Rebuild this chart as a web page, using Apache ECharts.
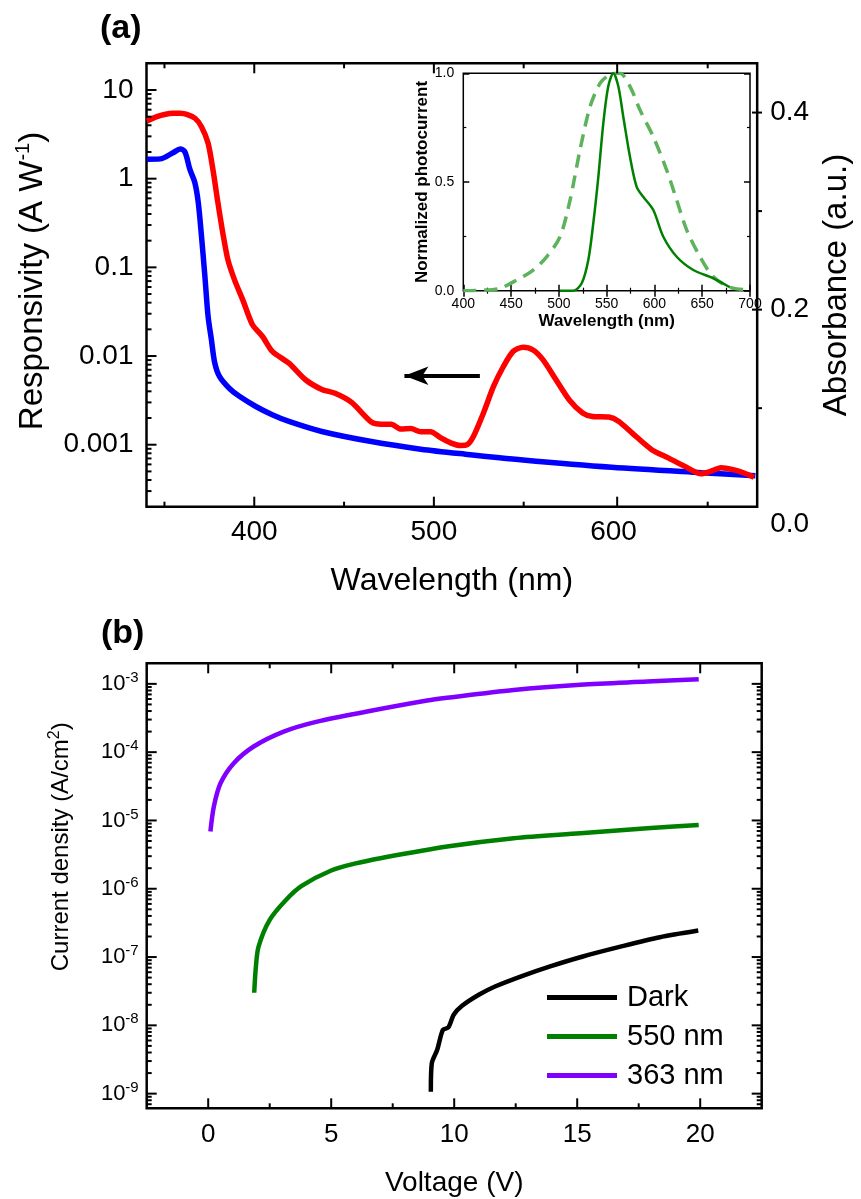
<!DOCTYPE html>
<html>
<head>
<meta charset="utf-8">
<script src="https://cdn.jsdelivr.net/npm/echarts@6/dist/echarts.min.js"></script>
<style>html,body{margin:0;padding:0;background:#fff}#c{width:861px;height:1199px}</style>
</head>
<body>
<div id="c"></div>
<script>
const FONT = "'Liberation Sans', Arial, Helvetica, sans-serif";

// ---------- Panel (a): responsivity (left, log) ----------
const respWl = [340.3,345.8,350,355,358.5,362.4,367,370.6,374.3,377,379.8,382.5,385.3,389,393.6,399,404.6,410,419.3,428.5,437.6,445,454.2,465.2,470.7,476.2,481.7,487.2,492.7,498.2,503.7,509.3,514.8,518.5,522,527.6,533.2,538.7,544.2,549.7,555.2,560.7,568,575.4,582.8,588.3,597.4,603,610.3,621.3,630.5,639.7,648.9,654,659.8,667.2,672.7,678.2];
const respVal = [4.48,5.0,5.3,5.46,5.45,5.32,4.8,3.86,2.51,1.26,0.53,0.243,0.122,0.0723,0.043,0.0225,0.0166,0.0113,0.0083,0.0054,0.0042,0.0038,0.0030,0.0018,0.0017,0.0017,0.0015,0.00152,0.0014,0.0014,0.0012,0.00105,0.00098,0.001,0.00124,0.00228,0.00454,0.00762,0.0113,0.0126,0.0117,0.0091,0.0054,0.0032,0.00228,0.00208,0.00205,0.00183,0.00136,0.00088,0.00071,0.00057,0.00047,0.0005,0.00055,0.00052,0.00048,0.00043];

// ---------- Panel (a): absorbance (right, linear) ----------
const absWl = [340.3,347.6,355,358.7,361.4,364.2,366.9,368.8,370.6,372.5,374.3,376.1,378,380.7,386.2,391.7,400.9,410,419.3,437.6,465.2,492.7,517.5,549.6,599,649,679];
const absVal = [0.3527,0.353,0.3595,0.363,0.360,0.342,0.329,0.309,0.275,0.234,0.193,0.170,0.146,0.132,0.120,0.112,0.1017,0.0933,0.0865,0.0763,0.0661,0.0584,0.0533,0.0474,0.040,0.0345,0.0315];

// ---------- Inset: normalized photocurrent ----------
const insetPcWl = [501,515,523.9,530.8,536,541.3,546.5,551.7,557,562.2,567.4,574.4,581.4,588.3,598.8,609.3,623.3,640.7,661.6,679];
const insetPcVal = [0,0,0.034,0.141,0.31,0.524,0.77,0.94,1.0,0.94,0.80,0.616,0.478,0.432,0.371,0.248,0.156,0.095,0.057,0.016];
const insetDashWl = [400,420,438.4,455.9,473.2,487.2,501.2,511.7,522.1,532.6,543,550,557,564,574.4,584.9,598.8,612.8,623.3,633.8,647.7,661.6,679,696.5];
const insetDashVal = [0,0.002,0.011,0.049,0.095,0.156,0.248,0.417,0.647,0.846,0.954,0.985,1.0,1.0,0.94,0.831,0.708,0.555,0.417,0.279,0.156,0.064,0.016,0.004];

// ---------- Panel (b): current density vs voltage ----------
const darkV = [9.05,9.09,9.31,9.54,9.76,9.98,10.32,11.0,11.66,12.78,13.9,15.23,16.8,18.36,19.92];
const darkJ = [1.07e-9,2.8e-9,4.4e-9,8.6e-9,9.3e-9,1.43e-8,1.93e-8,2.8e-8,3.7e-8,5.3e-8,7.3e-8,1.02e-7,1.43e-7,1.95e-7,2.44e-7];
const g550V = [1.87,1.94,2.05,2.5,3.17,3.8,5.0,6.0,7.0,9.71,12.42,15.13,17.85,19.94];
const g550J = [3.0e-8,7.3e-8,1.43e-7,3.5e-7,6.9e-7,1.1e-6,1.85e-6,2.35e-6,2.8e-6,4.15e-6,5.5e-6,6.5e-6,7.7e-6,8.6e-6];
const u363V = [0.09,0.23,0.5,1.04,1.85,3.07,4.43,6.46,8.9,9.71,12.42,15.13,17.85,19.94];
const u363J = [6.9e-6,1.6e-5,3.5e-5,6.9e-5,1.21e-4,2.0e-4,2.8e-4,3.93e-4,5.69e-4,6.24e-4,8.13e-4,9.7e-4,1.08e-3,1.17e-3];

// arrow annotation (wavelength, responsivity)
const arrowFrom = [525.6, 0.006];
const arrowTo = [483.6, 0.006];

// axis ranges
const aXRange = [340, 680], aYRange = [2e-4, 20], absRange = [0, 0.45];
const bXRange = [-2.5, 22.5], bYRange = [6.1e-10, 2e-3];

// tick positions
const aXMajor = [400,500,600], aXMinor = [350,450,550,650];
const aYMajor = [0.001,0.01,0.1,1,10];
const absMajor = [0.2,0.4], absMinor = [0.1,0.3];
const bXMajor = [0,5,10,15,20], bXMinor = [2.5,7.5,12.5,17.5];
const bYMajor = [1e-9,1e-8,1e-7,1e-6,1e-5,1e-4,1e-3];

// layout rectangles of the plot frames
const RA = {left:146.5, top:63.3, width:615.5, height:443.4};
const RI = {left:463.3, top:73.3, width:286.7, height:217.4};
const RB = {left:146.7, top:663.3, width:615, height:445};

function zip(a,b){ return a.map((v,i)=>[v,b[i]]); }
function logMinors(lo, hi){
  const out=[];
  for(let e=-12;e<=2;e++){ for(let k=2;k<=9;k++){ const v=k*Math.pow(10,e); if(v>lo*1.0001 && v<hi*0.9999) out.push(v);} }
  return out;
}
const aYMinor = logMinors(aYRange[0], aYRange[1]);
const bYMinor = logMinors(bYRange[0], bYRange[1]);

const near = (v,step)=>Math.abs(v/step-Math.round(v/step))<1e-6;
const txt = (size,extra)=>Object.assign({fontSize:size,fontFamily:FONT,color:'#000'},extra||{});

const chart = echarts.init(document.getElementById('c'), null, {renderer:'canvas'});
try {
chart.setOption({
  animation:false,
  backgroundColor:'#fff',
  title:[
    {text:'(a)', left:95, top:7, textStyle:txt(34,{fontWeight:'bold'})},
    {text:'(b)', left:96, top:612, textStyle:txt(34,{fontWeight:'bold'})}
  ],
  legend:{
    data:['Dark','550 nm','363 nm'], orient:'vertical', left:542, top:978,
    itemWidth:70, itemHeight:5, itemGap:10, icon:'rect', selectedMode:false,
    textStyle:txt(29,{padding:[0,0,0,5]})
  },
  grid:[
    Object.assign({show:true, borderColor:'#000', borderWidth:2.5, backgroundColor:'rgba(0,0,0,0)'}, RA),
    Object.assign({show:true, borderColor:'#000', borderWidth:1.5, backgroundColor:'#fff', z:10}, RI),
    Object.assign({show:true, borderColor:'#000', borderWidth:2.5, backgroundColor:'rgba(0,0,0,0)'}, RB)
  ],
  xAxis:[
    {gridIndex:0, type:'value', min:aXRange[0], max:aXRange[1], interval:10,
     axisLine:{show:false}, axisTick:{show:false}, splitLine:{show:false},
     axisLabel:txt(28,{margin:12, formatter:v=>near(v,100)?String(v):''}),
     name:'Wavelength (nm)', nameLocation:'middle', nameGap:58, nameTextStyle:txt(32)},
    {gridIndex:1, type:'value', min:400, max:700, interval:50, position:'bottom', z:11,
     axisLine:{show:false}, splitLine:{show:false},
     axisTick:{inside:true, length:6, lineStyle:{color:'#000', width:1.5}},
     minorTick:{show:true, splitNumber:2, length:3, lineStyle:{color:'#000', width:1.2}},
     axisLabel:txt(14,{margin:6}),
     name:'Wavelength (nm)', nameLocation:'middle', nameGap:22, nameTextStyle:txt(17,{fontWeight:'bold'})},
    {gridIndex:1, type:'value', min:400, max:700, interval:50, position:'top', z:11,
     axisLine:{show:false}, splitLine:{show:false}, axisLabel:{show:false},
     axisTick:{inside:true, length:6, lineStyle:{color:'#000', width:1.5}},
     minorTick:{show:true, splitNumber:2, length:3, lineStyle:{color:'#000', width:1.2}}},
    {gridIndex:2, type:'value', min:bXRange[0], max:bXRange[1], interval:2.5,
     axisLine:{show:false}, axisTick:{show:false}, splitLine:{show:false},
     axisLabel:txt(26,{margin:14, formatter:v=>near(v,5)?String(Math.round(v)):''}),
     name:'Voltage (V)', nameLocation:'middle', nameGap:61, nameTextStyle:txt(28)}
  ],
  yAxis:[
    {gridIndex:0, type:'log', min:aYRange[0], max:aYRange[1],
     axisLine:{show:false}, axisTick:{show:false}, splitLine:{show:false}, minorTick:{show:false},
     axisLabel:txt(28,{margin:13, formatter:v=>{const e=Math.log10(v), r=Math.round(e); if(Math.abs(e-r)>1e-6) return ''; return r>=0?String(Math.pow(10,r)):Math.pow(10,r).toFixed(-r);}}),
     name:'{t|Responsivity (A W}{s|-1}{t|)}', nameLocation:'middle', nameGap:95,
     nameTextStyle:{padding:[0,0,0,8], rich:{t:txt(33), s:txt(20,{padding:[0,0,18,0]})}}},
    {gridIndex:0, type:'value', min:absRange[0], max:absRange[1], interval:0.05, position:'right',
     axisLine:{show:false}, axisTick:{show:false}, splitLine:{show:false},
     axisLabel:txt(28,{margin:13, formatter:v=>{ if(!near(v,0.2)) return ''; if(v<1e-9) return '{low|0.0}'; return v.toFixed(1);},
       rich:{low:txt(28,{padding:[36,0,0,0]})}}),
     name:'Absorbance (a.u.)', nameLocation:'middle', nameRotate:90, nameGap:62, nameTextStyle:txt(33)},
    {gridIndex:1, type:'value', min:0, max:1, interval:0.5, position:'left', z:11,
     axisLine:{show:false}, splitLine:{show:false},
     axisTick:{inside:true, length:6, lineStyle:{color:'#000', width:1.5}},
     minorTick:{show:true, splitNumber:2, length:3, lineStyle:{color:'#000', width:1.2}},
     axisLabel:txt(14,{margin:9, formatter:v=>v.toFixed(1)}),
     name:'Normalized photocurrent', nameLocation:'middle', nameGap:30, nameTextStyle:txt(17,{fontWeight:'bold'})},
    {gridIndex:1, type:'value', min:0, max:1, interval:0.5, position:'right', z:11,
     axisLine:{show:false}, splitLine:{show:false}, axisLabel:{show:false},
     axisTick:{inside:true, length:6, lineStyle:{color:'#000', width:1.5}},
     minorTick:{show:true, splitNumber:2, length:3, lineStyle:{color:'#000', width:1.2}}},
    {gridIndex:2, type:'log', min:bYRange[0], max:bYRange[1],
     axisLine:{show:false}, axisTick:{show:false}, splitLine:{show:false}, minorTick:{show:false},
     axisLabel:{margin:8, formatter:v=>{const e=Math.log10(v), r=Math.round(e); if(Math.abs(e-r)>1e-6) return ''; return '{b|10}{s|'+r+'}';},
       rich:{b:txt(22), s:txt(15,{padding:[0,0,12,0]})}},
     name:'{t|Current density (A/cm}{s|2}{t|)}', nameLocation:'middle', nameGap:70,
     nameTextStyle:{padding:[0,0,0,78], rich:{t:txt(24), s:txt(16,{padding:[0,0,14,0]})}}}
  ],
  series:[
    {name:'Responsivity', type:'line', xAxisIndex:0, yAxisIndex:0, data:zip(respWl,respVal),
     showSymbol:false, smooth:0.25, lineStyle:{color:'#ff0000', width:5.5}, itemStyle:{color:'#ff0000'}, z:3,
     markLine:{silent:true, animation:false, label:{show:false}, lineStyle:{color:'#000', width:4, type:'solid'},
       data:[[{coord:arrowFrom, symbol:'none'},{coord:arrowTo, symbol:'arrow', symbolSize:[14,24]}]]}},
    {name:'Absorbance', type:'line', xAxisIndex:0, yAxisIndex:1, data:zip(absWl,absVal),
     showSymbol:false, smooth:0.3, lineStyle:{color:'#0000ff', width:5.5}, itemStyle:{color:'#0000ff'}, z:2},
    {name:'inset dashed', type:'line', xAxisIndex:1, yAxisIndex:2, data:zip(insetDashWl,insetDashVal),
     showSymbol:false, smooth:0.3, lineStyle:{color:'#5cb35c', width:3.5, type:[13,8]}, itemStyle:{color:'#5cb35c'}, z:12},
    {name:'inset solid', type:'line', xAxisIndex:1, yAxisIndex:2, data:zip(insetPcWl,insetPcVal),
     showSymbol:false, smooth:0.3, lineStyle:{color:'#008000', width:2.5}, itemStyle:{color:'#008000'}, z:13},
    {name:'Dark', type:'line', xAxisIndex:3, yAxisIndex:4, data:zip(darkV,darkJ),
     showSymbol:false, smooth:0.25, lineStyle:{color:'#000000', width:4.5}, itemStyle:{color:'#000000'}, z:3},
    {name:'550 nm', type:'line', xAxisIndex:3, yAxisIndex:4, data:zip(g550V,g550J),
     showSymbol:false, smooth:0.3, lineStyle:{color:'#008000', width:4.5}, itemStyle:{color:'#008000'}, z:3},
    {name:'363 nm', type:'line', xAxisIndex:3, yAxisIndex:4, data:zip(u363V,u363J),
     showSymbol:false, smooth:0.3, lineStyle:{color:'#8000ff', width:4.5}, itemStyle:{color:'#8000ff'}, z:3}
  ]
});
} catch (e) { /* keep going so the frame ticks are still added */ }

// Frame tick marks: positions from the chart's axis scales, copied immediately and
// checked against the frame layout (falls back to the same axis mapping if unavailable)
const MAJ = 10, MIN = 5;
function mapper(finder, rect, xr, yr, yLog){
  const fy = v => yLog ? (Math.log10(v)-Math.log10(yr[0]))/(Math.log10(yr[1])-Math.log10(yr[0])) : (v-yr[0])/(yr[1]-yr[0]);
  const manual = (x,y)=>[rect.left + (x-xr[0])/(xr[1]-xr[0])*rect.width, rect.top + rect.height - fy(y)*rect.height];
  return (x,y)=>{
    const m = manual(x,y);
    try {
      const p = chart.convertToPixel(finder,[x,y]);
      if (p && isFinite(p[0]) && isFinite(p[1])) {
        const q = [Number(p[0]), Number(p[1])];
        if (Math.abs(q[0]-m[0])<3 && Math.abs(q[1]-m[1])<3) return q;
      }
    } catch(e) {}
    return [m[0], m[1]];
  };
}
function buildTicks(P, xr, yr, xMaj, xMin, yMaj, yMin, sides){
  const els=[];
  const line = (x1,y1,x2,y2)=>{ if([x1,y1,x2,y2].every(isFinite)) els.push({type:'line', silent:true, z:50,
    shape:{x1:x1,y1:y1,x2:x2,y2:y2}, style:{stroke:'#000', lineWidth:2}}); };
  const xt=(list,len)=>list.forEach(v=>{
    const pb=P(v,yr[0]); const bx=pb[0], by=pb[1];
    const pt=P(v,yr[1]); const tx=pt[0], ty=pt[1];
    if(sides.bottom) line(bx,by,bx,by-len);
    if(sides.top) line(tx,ty,tx,ty+len);
  });
  const yt=(list,len)=>list.forEach(v=>{
    const pl=P(xr[0],v); const lx=pl[0], ly=pl[1];
    const pr=P(xr[1],v); const rx=pr[0], ry=pr[1];
    if(sides.left) line(lx,ly,lx+len,ly);
    if(sides.right) line(rx,ry,rx-len,ry);
  });
  xt(xMaj,MAJ); xt(xMin,MIN); yt(yMaj,MAJ); yt(yMin,MIN);
  return els;
}
let allTicks = [];
const tickJobs = [
  ()=>buildTicks(mapper({xAxisIndex:0, yAxisIndex:0}, RA, aXRange, aYRange, true), aXRange, aYRange, aXMajor, aXMinor, aYMajor, aYMinor, {bottom:true, top:true, left:true}),
  ()=>buildTicks(mapper({xAxisIndex:0, yAxisIndex:1}, RA, aXRange, absRange, false), aXRange, absRange, [], [], absMajor, absMinor, {right:true}),
  ()=>buildTicks(mapper({xAxisIndex:3, yAxisIndex:4}, RB, bXRange, bYRange, true), bXRange, bYRange, bXMajor, bXMinor, bYMajor, bYMinor, {bottom:true, top:true, left:true, right:true})
];
tickJobs.forEach(job=>{ try { allTicks = allTicks.concat(job()); } catch(e) {} });
try { chart.setOption({graphic:{elements:allTicks}}); } catch (e) {}
</script>
</body>
</html>
